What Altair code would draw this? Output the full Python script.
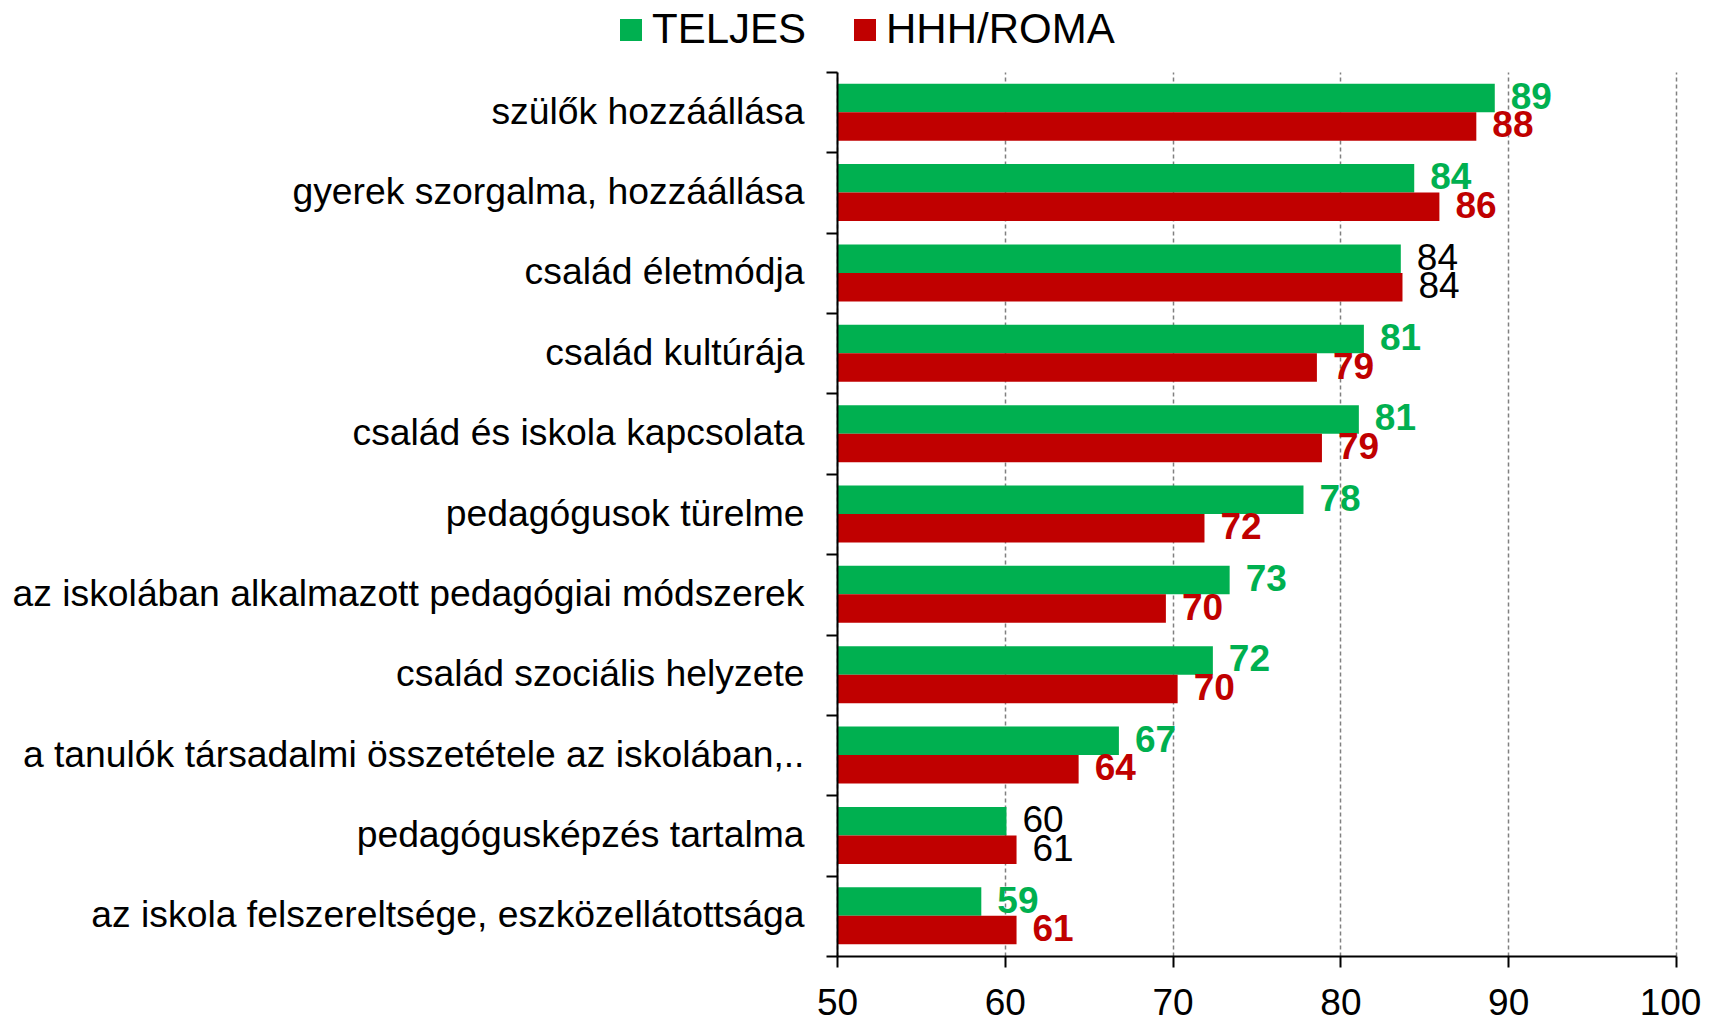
import altair as alt
import pandas as pd

FONT = "Liberation Sans"

categories = [
    "szülők hozzáállása",
    "gyerek szorgalma, hozzáállása",
    "család életmódja",
    "család kultúrája",
    "család és iskola kapcsolata",
    "pedagógusok türelme",
    "az iskolában alkalmazott pedagógiai módszerek",
    "család szociális helyzete",
    "a tanulók társadalmi összetétele az iskolában,..",
    "pedagógusképzés tartalma",
    "az iskola felszereltsége, eszközellátottsága",
]
teljes = [89.2, 84.4, 83.6, 81.4, 81.1, 77.8, 73.4, 72.4, 66.8, 60.1, 58.6]
hhh_roma = [88.1, 85.9, 83.7, 78.6, 78.9, 71.9, 69.6, 70.3, 64.4, 60.7, 60.7]
series_names = ["TELJES", "HHH/ROMA"]
series_colors = ["#00B050", "#C00000"]
plain_label_categories = ["család életmódja", "pedagógusképzés tartalma"]
x_ticks = [50, 60, 70, 80, 90, 100]

rows = []
for name, vals in zip(series_names, [teljes, hhh_roma]):
    for cat, v in zip(categories, vals):
        rows.append({"category": cat, "series": name, "value": v,
                     "plain": 1 if cat in plain_label_categories else 0})
df = pd.DataFrame(rows)

x_scale = alt.Scale(domain=[x_ticks[0], x_ticks[-1]], zero=False, nice=False)
color_scale = alt.Scale(domain=series_names, range=series_colors)

base = alt.Chart(df).encode(
    y=alt.Y(
        "category:N",
        sort=categories,
        scale=alt.Scale(paddingInner=0, paddingOuter=0),
        axis=alt.Axis(
            title=None, tickBand="extent", labelFont=FONT, labelFontSize=37.3,
            labelColor="black", labelPadding=22, tickSize=11, tickColor="black",
            tickWidth=2, domainColor="black", domainWidth=2, labelLimit=1000,
            grid=False, zindex=1,
        ),
    ),
    yOffset=alt.YOffset(
        "series:N", sort=series_names,
        scale=alt.Scale(paddingInner=0, paddingOuter=0.41),
    ),
)

bars = base.mark_bar(opacity=1).encode(
    x=alt.X(
        "value:Q",
        scale=x_scale,
        axis=alt.Axis(
            values=x_ticks, title=None, grid=True, gridDash=[4, 3],
            gridColor="#808080", gridWidth=1.5, labelFont=FONT, labelFontSize=37,
            labelColor="black", labelPadding=18, tickSize=11, tickColor="black",
            tickWidth=2, domainColor="black", domainWidth=2, format="d",
            labelFlush=False,
            labelOffset={"condition": {"test": f"datum.value == {x_ticks[-1]}", "value": -6},
                         "value": 0},
        ),
    ),
    x2=alt.datum(x_ticks[0]),
    color=alt.Color(
        "series:N",
        scale=color_scale,
        sort=series_names,
        legend=alt.Legend(
            title=None, orient="none", legendX=-227, legendY=-63,
            direction="horizontal", symbolType="square", symbolSize=484,
            symbolStrokeWidth=0, labelFont=FONT, labelFontSize=42,
            labelColor="black", labelOffset=0, columnPadding=37, padding=0,
            symbolOpacity=1, labelLimit=1000,
        ),
    ),
)

labels_colored = base.mark_text(
    align="left", baseline="middle", dx=16, font=FONT, fontSize=37, fontWeight="bold"
).encode(
    x=alt.X("value:Q", scale=x_scale),
    text=alt.Text("value:Q", format=".0f"),
    color=alt.Color("series:N", scale=color_scale, legend=None),
).transform_filter(alt.datum.plain == 0)

labels_plain = base.mark_text(
    align="left", baseline="middle", dx=16, font=FONT, fontSize=37, color="black"
).encode(
    x=alt.X("value:Q", scale=x_scale),
    text=alt.Text("value:Q", format=".0f"),
).transform_filter(alt.datum.plain == 1)

chart = alt.layer(bars, labels_colored, labels_plain).properties(
    width=839,
    height=884,
    background="white",
    autosize=alt.AutoSizeParams(type="none"),
    padding={"left": 829, "top": 64, "right": 25, "bottom": 62},
).configure_view(strokeWidth=0, stroke="transparent")

chart.save("out.html", embed_options={"renderer": "svg", "actions": False})
